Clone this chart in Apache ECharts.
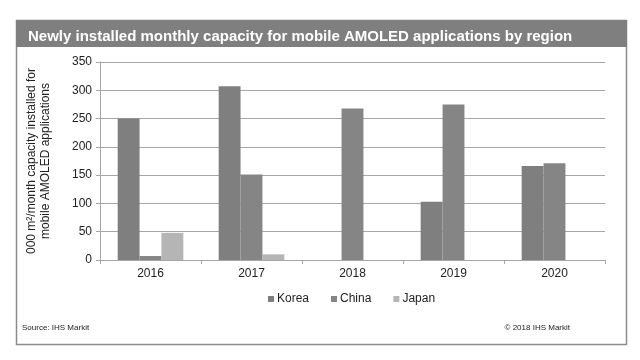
<!DOCTYPE html>
<html><head><meta charset="utf-8">
<script src="https://cdn.jsdelivr.net/npm/echarts@6/dist/echarts.min.js"></script>
<style>html,body{margin:0;padding:0;background:#fff}#c{width:640px;height:360px}</style>
</head><body><div id="c"></div>
<script>
const categories = ['2016', '2017', '2018', '2019', '2020'];
const korea = [250, 307, 0, 103, 166];
const china = [7, 151, 268, 275, 171];
const japan = [48, 10, 0, 0, 0];
const yTicks = [0, 50, 100, 150, 200, 250, 300, 350];

const chart = echarts.init(document.getElementById('c'), null, {renderer: 'canvas'});
const font = 'Liberation Sans, Arial, sans-serif';
chart.setOption({
  animation: false,
  backgroundColor: '#fff',
  textStyle: {fontFamily: font},
  graphic: [
    {type: 'rect', shape: {x: 16.5, y: 20.5, width: 610, height: 324}, style: {fill: '#fff', stroke: '#8c8c8c', lineWidth: 1.5}, z: -10},
    {type: 'rect', shape: {x: 16, y: 20, width: 611, height: 27}, style: {fill: '#7f7f7f'}, z: -9},
    {type: 'text', left: 22, top: 324, style: {text: 'Source: IHS Markit', fontSize: 8, fill: '#222', fontFamily: font}},
    {type: 'text', right: 70, top: 324, style: {text: '\u00a9 2018 IHS Markit', fontSize: 8, fill: '#222', fontFamily: font}}
  ],
  title: {
    text: 'Newly installed monthly capacity for mobile AMOLED applications by region',
    left: 23, top: 24,
    textStyle: {color: '#fff', fontSize: 15, fontWeight: 'bold', fontFamily: font}
  },
  grid: {left: 100, right: 35, top: 62, bottom: 100},
  legend: {
    data: ['Korea', 'China', 'Japan'],
    left: 263, top: 288,
    itemWidth: 6, itemHeight: 6, itemGap: 22, icon: 'rect',
    textStyle: {fontSize: 12, color: '#222', fontFamily: font, padding: [0, 0, 0, -2]}
  },
  xAxis: {
    type: 'category', data: categories,
    axisLine: {lineStyle: {color: '#a6a6a6'}},
    axisTick: {show: true, length: 4, lineStyle: {color: '#a6a6a6'}},
    axisLabel: {fontSize: 12, color: '#222', margin: 8}
  },
  yAxis: {
    type: 'value', min: 0, max: 350, interval: 50,
    name: '000 m\u00b2/month capacity installed for\nmobile AMOLED applications',
    nameLocation: 'middle', nameGap: 47, nameRotate: 90,
    nameTextStyle: {fontSize: 12, color: '#222', lineHeight: 14, fontFamily: font},
    axisLine: {show: true, lineStyle: {color: '#a6a6a6'}},
    axisTick: {show: true, length: 4, lineStyle: {color: '#a6a6a6'}},
    axisLabel: {fontSize: 12, color: '#222', margin: 8, formatter: v => yTicks.includes(v) ? String(v) : ''},
    splitLine: {lineStyle: {color: '#a6a6a6'}}
  },
  series: [
    {name: 'Korea', type: 'bar', data: korea, barGap: '0%', barCategoryGap: '35%', itemStyle: {color: '#7f7f7f'}},
    {name: 'China', type: 'bar', data: china, itemStyle: {color: '#858585'}},
    {name: 'Japan', type: 'bar', data: japan, itemStyle: {color: '#b5b5b5'}}
  ]
});
</script></body></html>
